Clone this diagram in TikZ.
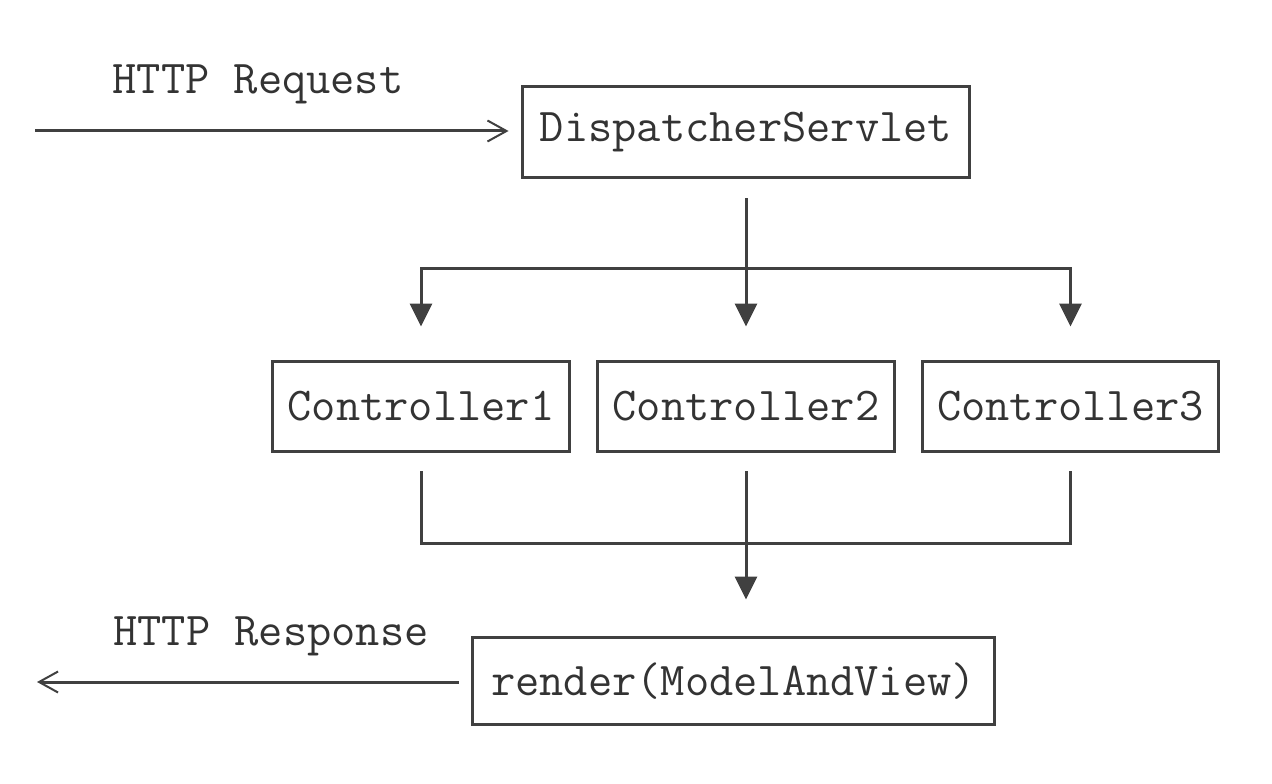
\documentclass[tikz,border=0pt]{standalone}
\usepackage{fontspec}
\usetikzlibrary{arrows.meta, positioning}

\begin{document}
\begin{tikzpicture}[x=0.02cm, y=-0.02cm,
    every node/.style={font=\ttfamily\fontsize{26.8}{30}\selectfont, text=black!80},
    box/.style={draw=black!75, line width=0.06cm, inner sep=0pt, outer sep=0pt},
    link/.style={draw=black!75, line width=0.06cm},
    down/.style={-{Triangle[length=0.46cm, width=0.44cm]}},
    barb/.style={-{Straight Barb[length=0.38cm, width=0.42cm, line width=0.04cm]}}]
    \useasboundingbox (0,0) rectangle (1272,784);

    % boxes
    \node[box, minimum width=8.94cm, minimum height=1.82cm] (ds) at (746,132) {DispatcherServlet};
    \node[box, minimum width=5.94cm, minimum height=1.8cm] (c1) at (421,406.5) {Controller1};
    \node[box, minimum width=5.94cm, minimum height=1.8cm] (c2) at (746,406.5) {Controller2};
    \node[box, minimum width=5.94cm, minimum height=1.8cm] (c3) at (1070.5,406.5) {Controller3};
    \node[box, minimum width=10.44cm, minimum height=1.74cm] (rv) at (733.5,681) {render(ModelAndView)};

    % request / response
    \coordinate (in) at (35,131);
    \coordinate (out) at (37,682);
    \node (req) at (258,84) {HTTP Request};
    \node (resp) at (271,636) {HTTP Response};
    \draw[link, barb, shorten >=0.28cm] (in) -- (in -| ds.west);
    \draw[link, barb, shorten <=0.28cm] (out -| rv.west) -- (out);

    % dispatch to controllers
    \coordinate (fork) at (746,268);
    \draw[link] ([yshift=-0.42cm]ds.south) -- (fork);
    \draw[link, down, shorten >=0.7cm] (fork) -| (c1.north);
    \draw[link, down, shorten >=0.7cm] (fork) -- (c2.north);
    \draw[link, down, shorten >=0.7cm] (fork) -| (c3.north);

    % controllers to view
    \coordinate (join) at (746,543);
    \draw[link] ([yshift=-0.4cm]c1.south) |- (join);
    \draw[link] ([yshift=-0.4cm]c3.south) |- (join);
    \draw[link, down, shorten >=0.76cm] ([yshift=-0.4cm]c2.south) -- (c2.south |- rv.north);
\end{tikzpicture}
\end{document}
